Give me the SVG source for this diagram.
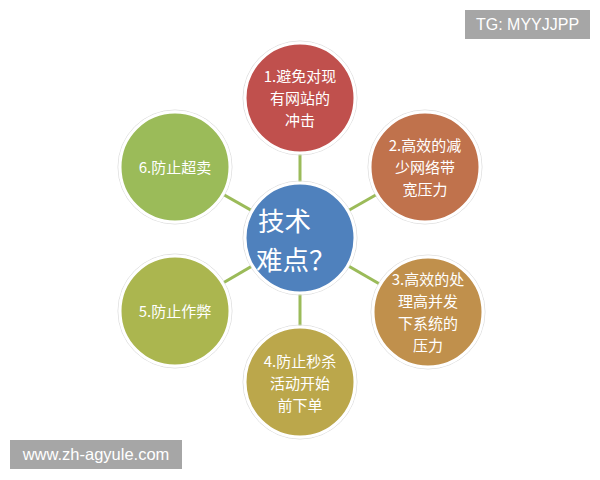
<svg xmlns="http://www.w3.org/2000/svg" width="600" height="480" viewBox="0 0 600 480">
<style>
.bg{fill:#ffffff}
.conn line{stroke:#9bbb59;stroke-width:3}
.node{stroke:#ffffff;stroke-width:3}
.halo{fill:none;stroke:#d6d6d6;stroke-width:0.8}
.lbl{font-family:"Noto Sans CJK SC","Liberation Sans",sans-serif;font-size:15px;fill:#ffffff;text-anchor:middle}
.big{font-family:"Noto Sans CJK SC","Liberation Sans",sans-serif;font-size:26.5px;fill:#ffffff}
.wm{fill:#a6a6a6}
.wmt{font-family:"Liberation Sans","DejaVu Sans",sans-serif;fill:#ffffff}
</style>
<rect class="bg" x="0" y="0" width="600" height="480"/>
<g id="connectors" class="conn">
<line x1="300" y1="238" x2="300" y2="98"/>
<line x1="300" y1="238" x2="425" y2="167"/>
<line x1="300" y1="238" x2="428" y2="312"/>
<line x1="300" y1="238" x2="300" y2="382"/>
<line x1="300" y1="238" x2="175" y2="311"/>
<line x1="300" y1="238" x2="175" y2="167"/>
</g>
<g id="node1">
<circle class="halo" cx="300" cy="98" r="57"/>
<circle class="node" cx="300" cy="98" r="55" fill="#c0504d"/>
<text class="lbl"><tspan x="300" y="82">1.避免对现</tspan><tspan x="300" y="104">有网站的</tspan><tspan x="300" y="126">冲击</tspan></text>
</g>
<g id="node2">
<circle class="halo" cx="425" cy="167" r="57"/>
<circle class="node" cx="425" cy="167" r="55" fill="#c0724c"/>
<text class="lbl"><tspan x="425" y="151">2.高效的减</tspan><tspan x="425" y="173">少网络带</tspan><tspan x="425" y="195">宽压力</tspan></text>
</g>
<g id="node3">
<circle class="halo" cx="428" cy="312" r="57"/>
<circle class="node" cx="428" cy="312" r="55" fill="#c0904c"/>
<text class="lbl"><tspan x="428" y="285">3.高效的处</tspan><tspan x="428" y="307">理高并发</tspan><tspan x="428" y="329">下系统的</tspan><tspan x="428" y="351">压力</tspan></text>
</g>
<g id="node4">
<circle class="halo" cx="300" cy="382" r="57"/>
<circle class="node" cx="300" cy="382" r="55" fill="#bba74b"/>
<text class="lbl"><tspan x="300" y="367">4.防止秒杀</tspan><tspan x="300" y="389">活动开始</tspan><tspan x="300" y="411">前下单</tspan></text>
</g>
<g id="node5">
<circle class="halo" cx="175" cy="311" r="57"/>
<circle class="node" cx="175" cy="311" r="55" fill="#abb64f"/>
<text class="lbl" x="175" y="317">5.防止作弊</text>
</g>
<g id="node6">
<circle class="halo" cx="175" cy="167" r="57"/>
<circle class="node" cx="175" cy="167" r="55" fill="#9bbb59"/>
<text class="lbl" x="175" y="173">6.防止超卖</text>
</g>
<g id="center">
<circle class="halo" cx="300" cy="238" r="57"/>
<circle class="node" cx="300" cy="238" r="55" fill="#4f81bd"/>
<text class="big"><tspan x="258" y="231">技术</tspan><tspan x="256" y="270">难点？</tspan></text>
</g>
<g id="watermark-top">
<rect class="wm" x="465" y="10" width="125" height="29"/>
<text class="wmt" x="527.5" y="30" font-size="16" text-anchor="middle">TG: MYYJJPP</text>
</g>
<g id="watermark-bottom">
<rect class="wm" x="10" y="440" width="172" height="29"/>
<text class="wmt" x="96" y="460" font-size="16.5" text-anchor="middle">www.zh-agyule.com</text>
</g>
</svg>
